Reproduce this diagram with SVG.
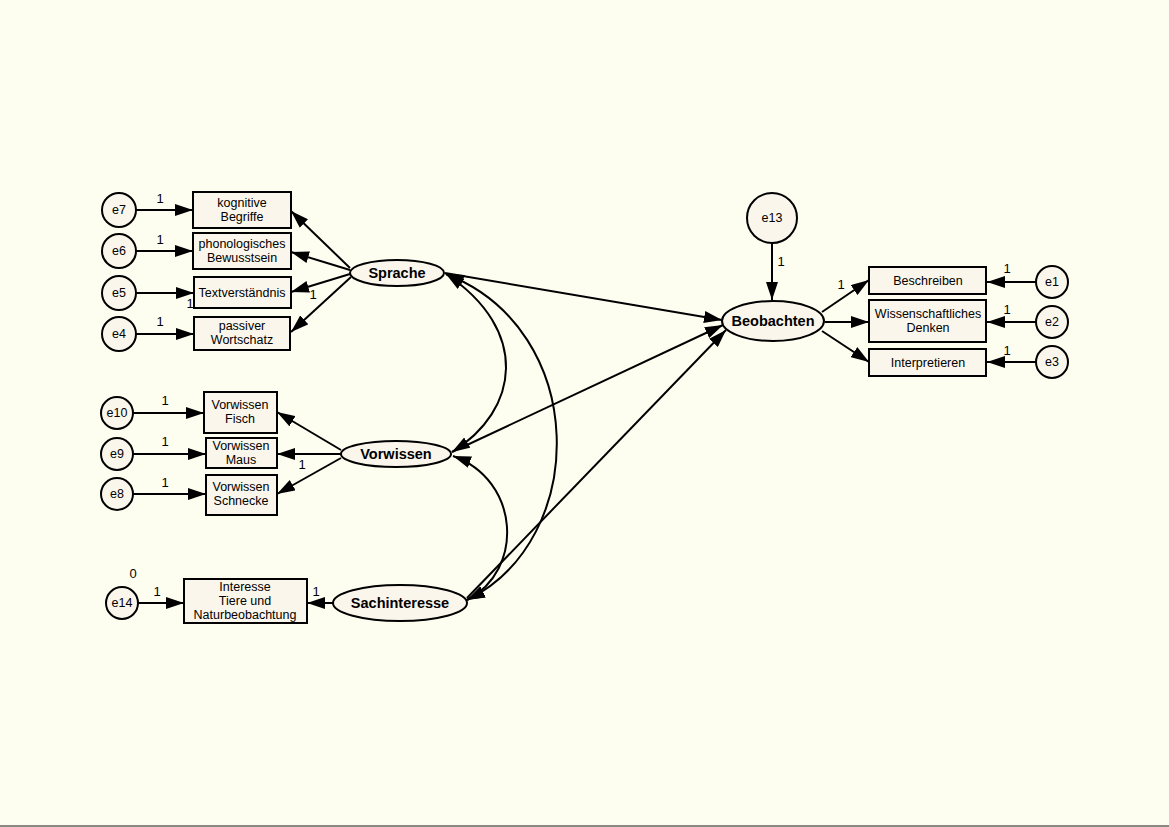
<svg xmlns="http://www.w3.org/2000/svg" width="1169" height="827" viewBox="0 0 1169 827">
<defs>
<marker id="ah" markerUnits="userSpaceOnUse" markerWidth="20" markerHeight="12" refX="18" refY="6" orient="auto">
<path d="M0,0 L18,6 L0,12 Z" fill="#000"/>
</marker>
<marker id="ahs" markerUnits="userSpaceOnUse" markerWidth="20" markerHeight="12" refX="18" refY="6" orient="auto-start-reverse">
<path d="M0,0 L18,6 L0,12 Z" fill="#000"/>
</marker>
<style>
.n{fill:#FBF6EC;stroke:#000;stroke-width:2}
.t{font-family:"Liberation Sans",Arial,sans-serif;font-size:12.5px;fill:#000;text-anchor:middle}
.b{font-family:"Liberation Sans",Arial,sans-serif;font-size:14.5px;font-weight:bold;fill:#000;text-anchor:middle}
.l{font-family:"Liberation Sans",Arial,sans-serif;font-size:13px;fill:#000;text-anchor:middle}
.c{fill:none;stroke:#000;stroke-width:2}
.a{fill:none;stroke:#000;stroke-width:2;marker-end:url(#ah)}
.d{fill:none;stroke:#000;stroke-width:2;marker-end:url(#ah);marker-start:url(#ahs)}
</style>
</defs>
<rect x="0" y="0" width="1169" height="827" fill="#FEFEF0"/>
<line x1="0" y1="826" x2="1169" y2="826" stroke="#8A8A80" stroke-width="2"/>

<g id="connectors">
<line class="a" x1="136" y1="210" x2="193" y2="210"/>
<line class="a" x1="136" y1="251" x2="193" y2="251"/>
<line class="a" x1="136" y1="293" x2="194" y2="293"/>
<line class="a" x1="136" y1="334" x2="194" y2="334"/>
<line class="a" x1="350" y1="268" x2="291" y2="211"/>
<line class="a" x1="350" y1="270" x2="291" y2="252"/>
<line class="a" x1="350" y1="274" x2="291" y2="292"/>
<line class="a" x1="351" y1="277" x2="291" y2="332"/>
<line class="a" x1="133" y1="413" x2="204" y2="413"/>
<line class="a" x1="133" y1="454" x2="206" y2="454"/>
<line class="a" x1="133" y1="494" x2="206" y2="494"/>
<line class="a" x1="341" y1="450" x2="277" y2="412"/>
<line class="a" x1="341" y1="454" x2="277" y2="454"/>
<line class="a" x1="341" y1="458" x2="277" y2="494"/>
<line class="a" x1="138" y1="603" x2="184" y2="603"/>
<line class="a" x1="333" y1="603" x2="307" y2="603"/>
<line class="a" x1="772" y1="243" x2="772" y2="300"/>
<line class="a" x1="822" y1="312" x2="869" y2="280"/>
<line class="a" x1="825" y1="322" x2="869" y2="322"/>
<line class="a" x1="822" y1="331" x2="869" y2="362"/>
<line class="a" x1="1036" y1="282" x2="987" y2="282"/>
<line class="a" x1="1036" y1="322" x2="987" y2="322"/>
<line class="a" x1="1036" y1="362" x2="987" y2="362"/>
<line class="a" x1="445" y1="273" x2="722" y2="320"/>
<line class="a" x1="452" y1="452" x2="723" y2="325"/>
<line class="a" x1="467" y1="598" x2="726" y2="330"/>
<path class="d" d="M446,274 C530,330 520,410 452,452"/>
<path class="d" d="M446,274 C590,330 590,540 467,600"/>
<path class="d" d="M453,456 C520,480 525,570 467,600"/>
</g>

<g id="labels">
<text class="l" x="160" y="203">1</text>
<text class="l" x="160" y="244">1</text>
<text class="l" x="190" y="308">1</text>
<text class="l" x="313" y="299">1</text>
<text class="l" x="160" y="326">1</text>
<text class="l" x="165" y="405">1</text>
<text class="l" x="165" y="446">1</text>
<text class="l" x="165" y="487">1</text>
<text class="l" x="302" y="469">1</text>
<text class="l" x="133" y="578">0</text>
<text class="l" x="157" y="596">1</text>
<text class="l" x="316" y="596">1</text>
<text class="l" x="781" y="266">1</text>
<text class="l" x="841" y="289">1</text>
<text class="l" x="1007" y="273">1</text>
<text class="l" x="1007" y="314">1</text>
<text class="l" x="1007" y="355">1</text>
</g>

<g id="e7"><circle class="n" cx="119" cy="210" r="17"/><text class="t" x="119" y="214">e7</text></g>
<g id="e6"><circle class="n" cx="119" cy="251" r="17"/><text class="t" x="119" y="255">e6</text></g>
<g id="e5"><circle class="n" cx="119" cy="293" r="17"/><text class="t" x="119" y="297">e5</text></g>
<g id="e4"><circle class="n" cx="119" cy="334" r="17"/><text class="t" x="119" y="338">e4</text></g>
<g id="e10"><circle class="n" cx="117" cy="413" r="16"/><text class="t" x="117" y="417">e10</text></g>
<g id="e9"><circle class="n" cx="117" cy="454" r="16"/><text class="t" x="117" y="458">e9</text></g>
<g id="e8"><circle class="n" cx="117" cy="494" r="16"/><text class="t" x="117" y="498">e8</text></g>
<g id="e14"><circle class="n" cx="122" cy="603" r="16"/><text class="t" x="122" y="607">e14</text></g>
<g id="e13"><circle class="n" cx="772" cy="218" r="25"/><text class="t" x="772" y="222">e13</text></g>
<g id="e1"><circle class="n" cx="1052" cy="282" r="16"/><text class="t" x="1052" y="286">e1</text></g>
<g id="e2"><circle class="n" cx="1052" cy="322" r="16"/><text class="t" x="1052" y="326">e2</text></g>
<g id="e3"><circle class="n" cx="1052" cy="362" r="16"/><text class="t" x="1052" y="366">e3</text></g>

<g id="kognitive"><rect class="n" x="193" y="192" width="98" height="36"/><text class="t" x="242" y="207">kognitive</text><text class="t" x="242" y="221">Begriffe</text></g>
<g id="phonologisches"><rect class="n" x="193" y="233" width="98" height="36"/><text class="t" x="242" y="248">phonologisches</text><text class="t" x="242" y="262">Bewusstsein</text></g>
<g id="textverstaendnis"><rect class="n" x="194" y="277" width="97" height="31"/><text class="t" x="242" y="297">Textverständnis</text></g>
<g id="passiver"><rect class="n" x="194" y="317" width="96" height="33"/><text class="t" x="242" y="330">passiver</text><text class="t" x="242" y="344">Wortschatz</text></g>
<g id="vw_fisch"><rect class="n" x="204" y="392" width="73" height="41"/><text class="t" x="240" y="409">Vorwissen</text><text class="t" x="240" y="423">Fisch</text></g>
<g id="vw_maus"><rect class="n" x="206" y="438" width="71" height="30"/><text class="t" x="241" y="450">Vorwissen</text><text class="t" x="241" y="464">Maus</text></g>
<g id="vw_schnecke"><rect class="n" x="206" y="475" width="71" height="40"/><text class="t" x="241" y="491">Vorwissen</text><text class="t" x="241" y="505">Schnecke</text></g>
<g id="interesse"><rect class="n" x="184" y="579" width="123" height="44"/><text class="t" x="245" y="591">Interesse</text><text class="t" x="245" y="605">Tiere und</text><text class="t" x="245" y="619">Naturbeobachtung</text></g>
<g id="beschreiben"><rect class="n" x="869" y="267" width="117" height="27"/><text class="t" x="928" y="285">Beschreiben</text></g>
<g id="wissenschaftliches"><rect class="n" x="869" y="300" width="117" height="42"/><text class="t" x="928" y="318">Wissenschaftliches</text><text class="t" x="928" y="332">Denken</text></g>
<g id="interpretieren"><rect class="n" x="869" y="349" width="117" height="27"/><text class="t" x="928" y="367">Interpretieren</text></g>

<g id="sprache"><ellipse class="n" cx="397" cy="273" rx="47" ry="13"/><text class="b" x="397" y="278">Sprache</text></g>
<g id="vorwissen"><ellipse class="n" cx="396" cy="454" rx="55" ry="13"/><text class="b" x="396" y="459">Vorwissen</text></g>
<g id="sachinteresse"><ellipse class="n" cx="400" cy="603" rx="67" ry="18"/><text class="b" x="400" y="608">Sachinteresse</text></g>
<g id="beobachten"><ellipse class="n" cx="773" cy="321" rx="51" ry="20"/><text class="b" x="773" y="326">Beobachten</text></g>
</svg>
